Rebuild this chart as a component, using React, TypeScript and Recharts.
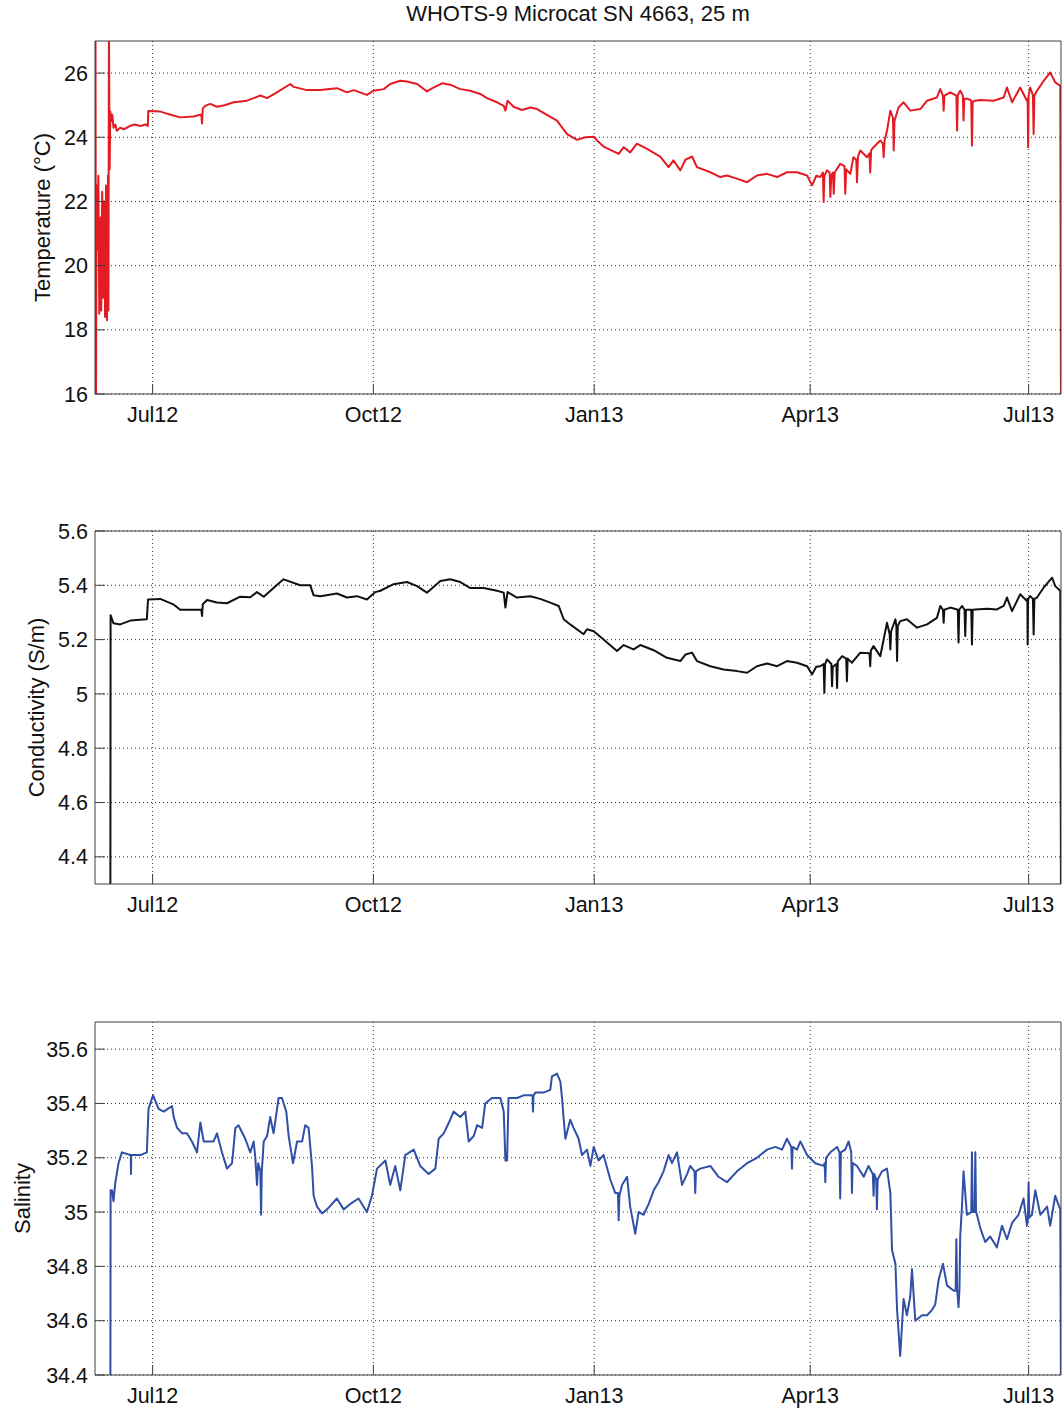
import { LineChart, Line, XAxis, YAxis, CartesianGrid } from 'recharts'

// x values are days since 1 Jul 2012
const monthTicks = [0, 92, 184, 274, 365]
const monthLabels = ['Jul12', 'Oct12', 'Jan13', 'Apr13', 'Jul13']
const dayDomain: [number, number] = [-24, 378.5]

const tempTicks = [16, 18, 20, 22, 24, 26]
const condTicks = [4.4, 4.6, 4.8, 5, 5.2, 5.4, 5.6]
const salTicks = [34.4, 34.6, 34.8, 35, 35.2, 35.4, 35.6]

// [day, temperature °C]
const tempPoints: [number, number][] = [
  [-23.8, 27.5], [-23.6, 15.5], [-23.3, 22.5], [-23.0, 20.5], [-22.6, 22.8], [-22.2, 18.5], [-21.8, 21.5],
  [-21.4, 18.6], [-21.0, 22.3], [-20.6, 19.0], [-20.2, 22.0], [-19.8, 18.4], [-19.4, 22.5], [-19.0, 18.3],
  [-18.6, 22.8], [-18.4, 18.6], [-18.2, 27.5], [-17.9, 23.0], [-17.6, 24.8], [-17.2, 24.5], [-16.8, 24.7],
  [-16.3, 24.3], [-15.5, 24.4], [-14.9, 24.2], [-13.5, 24.3], [-12.0, 24.25], [-9.5, 24.35], [-7.5, 24.4],
  [-5.0, 24.35], [-3.0, 24.4], [-2.0, 24.35], [-1.8, 24.82], [3.2, 24.8], [8.6, 24.68], [11.5, 24.62],
  [17.0, 24.65], [19.9, 24.7], [20.3, 24.7], [20.6, 24.43], [20.9, 24.9], [22.0, 24.98], [24.0, 25.04],
  [26.8, 24.95], [30.0, 25.0], [33.8, 25.09], [39.3, 25.14], [44.9, 25.3], [47.7, 25.22], [51.8, 25.4],
  [57.4, 25.66], [58.8, 25.57], [64.3, 25.47], [69.9, 25.47], [76.8, 25.53], [81.0, 25.4], [83.8, 25.47],
  [89.3, 25.32], [92.0, 25.45], [96.3, 25.5], [99.0, 25.66], [103.2, 25.76], [106.0, 25.74], [110.2, 25.66],
  [114.3, 25.43], [117.0, 25.55], [120.6, 25.68], [124.0, 25.64], [128.2, 25.5], [132.4, 25.45], [136.5, 25.35],
  [139.3, 25.22], [143.5, 25.09], [146.3, 24.98], [147.0, 24.83], [147.9, 25.14], [150.4, 24.95], [153.9, 24.85],
  [157.4, 24.93], [160.2, 24.88], [164.3, 24.7], [168.5, 24.52], [170.6, 24.31], [172.7, 24.1], [176.8, 23.92],
  [180.3, 24.0], [183.8, 24.02], [185.2, 23.9], [187.9, 23.71], [194.2, 23.48], [196.3, 23.69], [199.0, 23.53],
  [201.8, 23.8], [206.0, 23.64], [211.5, 23.4], [215.0, 23.07], [217.0, 23.28], [219.9, 22.97], [222.0, 23.3],
  [224.8, 23.4], [226.8, 23.07], [232.4, 22.91], [236.5, 22.76], [239.3, 22.81], [243.5, 22.71], [247.7, 22.6],
  [251.8, 22.81], [256.0, 22.86], [260.2, 22.76], [264.3, 22.91], [268.5, 22.91], [272.7, 22.81], [274.8, 22.5],
  [276.5, 22.8], [278.2, 22.76], [279.3, 22.9], [279.6, 21.98], [279.9, 22.8], [281.0, 22.97], [282.1, 22.9],
  [282.4, 22.14], [282.8, 22.8], [283.5, 22.9], [283.8, 22.24], [284.2, 22.9], [286.5, 23.17], [288.3, 23.1],
  [288.6, 22.24], [289.0, 23.0], [290.7, 22.86], [292.0, 23.38], [293.2, 23.3], [293.5, 22.6], [293.9, 23.4],
  [294.9, 23.59], [297.7, 23.38], [298.7, 23.5], [299.0, 22.9], [299.4, 23.6], [300.4, 23.69], [303.2, 23.9],
  [304.3, 23.8], [304.6, 23.38], [305.0, 23.9], [306.0, 24.2], [307.4, 24.83], [308.5, 24.6], [308.8, 23.59],
  [309.1, 24.5], [310.8, 24.93], [312.9, 25.09], [315.7, 24.83], [319.9, 24.88], [322.7, 25.14], [326.8, 25.24],
  [328.2, 25.5], [329.3, 25.3], [329.6, 24.83], [329.9, 25.3], [332.4, 25.4], [334.9, 25.3], [335.2, 24.21],
  [335.5, 25.3], [336.5, 25.45], [337.6, 25.3], [337.9, 24.52], [338.2, 25.2], [339.5, 25.2], [341.1, 25.15],
  [341.4, 23.74], [341.7, 25.1], [342.8, 25.14], [344.9, 25.16], [350.4, 25.14], [354.6, 25.24], [356.0, 25.55],
  [358.1, 25.09], [361.5, 25.55], [364.3, 25.14], [364.6, 25.2], [364.8, 23.69], [365.0, 25.3], [365.7, 25.55],
  [366.8, 25.3], [367.1, 24.1], [367.4, 25.3], [368.5, 25.45], [371.3, 25.76], [374.0, 26.02], [376.1, 25.71],
  [378.2, 25.6], [378.5, 15.5],
]

// [day, conductivity S/m]
const condPoints: [number, number][] = [
  [-17.6, 4.2], [-17.5, 5.29], [-16.3, 5.26], [-13.5, 5.256], [-9.3, 5.27], [-2.4, 5.275], [-1.9, 5.348],
  [3.2, 5.35], [8.6, 5.33], [11.5, 5.31], [17.0, 5.31], [19.9, 5.31], [20.3, 5.31], [20.6, 5.287], [20.9, 5.33],
  [22.7, 5.346], [26.8, 5.337], [31.0, 5.334], [36.5, 5.358], [40.7, 5.356], [43.5, 5.375], [46.3, 5.358],
  [53.2, 5.412], [54.6, 5.422], [61.5, 5.4], [65.7, 5.4], [67.1, 5.363], [69.9, 5.36], [76.8, 5.37],
  [81.0, 5.355], [85.2, 5.36], [89.3, 5.348], [92.8, 5.375], [94.9, 5.38], [100.4, 5.404], [106.0, 5.412],
  [110.2, 5.397], [114.3, 5.373], [119.9, 5.416], [124.0, 5.422], [128.2, 5.412], [132.4, 5.39], [137.9, 5.39],
  [143.5, 5.38], [146.3, 5.373], [147.0, 5.318], [147.9, 5.375], [151.8, 5.355], [157.4, 5.36], [161.5, 5.35],
  [165.7, 5.336], [169.2, 5.324], [171.3, 5.275], [174.0, 5.256], [179.6, 5.22], [181.0, 5.238], [183.8, 5.231],
  [187.9, 5.2], [193.5, 5.158], [196.3, 5.18], [200.4, 5.164], [203.2, 5.18], [208.8, 5.161], [214.3, 5.133],
  [219.9, 5.121], [222.0, 5.145], [224.8, 5.152], [226.8, 5.121], [232.4, 5.102], [237.9, 5.09], [243.5, 5.084],
  [247.7, 5.078], [251.8, 5.102], [256.0, 5.112], [260.2, 5.102], [264.3, 5.121], [268.5, 5.115], [272.7, 5.102],
  [274.8, 5.072], [276.5, 5.1], [278.2, 5.102], [279.6, 5.11], [279.9, 5.004], [280.2, 5.11], [281.0, 5.127],
  [282.8, 5.11], [283.1, 5.028], [283.4, 5.1], [284.9, 5.11], [285.2, 5.022], [285.5, 5.12], [287.3, 5.139],
  [289.0, 5.13], [289.3, 5.047], [289.6, 5.13], [291.4, 5.115], [294.9, 5.152], [298.7, 5.15], [299.0, 5.102],
  [299.3, 5.16], [300.4, 5.176], [303.2, 5.139], [306.0, 5.262], [307.1, 5.22], [307.4, 5.164], [307.7, 5.23],
  [309.5, 5.275], [309.9, 5.25], [310.2, 5.121], [310.5, 5.25], [311.5, 5.268], [314.3, 5.275], [318.5, 5.244],
  [322.7, 5.256], [326.8, 5.28], [328.2, 5.324], [329.3, 5.31], [329.6, 5.262], [329.9, 5.31], [332.4, 5.318],
  [335.5, 5.31], [335.8, 5.189], [336.1, 5.31], [337.3, 5.324], [338.3, 5.31], [338.6, 5.213], [338.9, 5.31],
  [341.1, 5.31], [341.4, 5.182], [341.7, 5.31], [342.8, 5.311], [347.7, 5.314], [351.8, 5.311], [354.6, 5.324],
  [356.0, 5.355], [358.1, 5.305], [361.5, 5.367], [364.3, 5.342], [364.5, 5.35], [364.6, 5.182], [364.8, 5.35],
  [365.7, 5.36], [366.8, 5.35], [367.1, 5.219], [367.4, 5.35], [368.5, 5.355], [371.3, 5.392], [374.8, 5.428],
  [376.1, 5.397], [378.2, 5.38], [378.5, 4.2],
]

// [day, salinity]
const salPoints: [number, number][] = [
  [-17.6, 34.3], [-17.5, 35.08], [-16.9, 35.08], [-16.3, 35.04], [-15.5, 35.11], [-14.2, 35.18], [-12.8, 35.22],
  [-9.3, 35.21], [-9.1, 35.21], [-9.0, 35.14], [-8.9, 35.21], [-5.1, 35.21], [-2.4, 35.22], [-1.7, 35.38],
  [0.2, 35.43], [2.5, 35.38], [4.6, 35.37], [8.1, 35.39], [8.8, 35.35], [10.2, 35.31], [12.3, 35.29],
  [14.3, 35.29], [16.4, 35.26], [18.5, 35.22], [19.9, 35.33], [21.3, 35.26], [22.7, 35.26], [25.4, 35.26],
  [26.8, 35.29], [28.9, 35.22], [31.0, 35.16], [33.1, 35.18], [34.5, 35.31], [35.8, 35.32], [38.6, 35.27],
  [40.7, 35.22], [42.1, 35.26], [42.8, 35.2], [43.5, 35.1], [44.0, 35.18], [44.9, 35.15], [45.2, 34.99],
  [45.5, 35.15], [46.3, 35.26], [47.7, 35.28], [49.0, 35.35], [50.4, 35.29], [52.5, 35.42], [53.9, 35.42],
  [55.7, 35.37], [56.7, 35.28], [58.5, 35.18], [60.2, 35.26], [62.3, 35.26], [63.6, 35.32], [65.0, 35.31],
  [66.4, 35.17], [67.1, 35.06], [68.5, 35.02], [70.6, 34.995], [72.7, 35.01], [76.8, 35.05], [79.6, 35.01],
  [82.4, 35.03], [85.8, 35.05], [89.3, 35.0], [91.4, 35.06], [93.5, 35.16], [97.0, 35.19], [99.0, 35.1],
  [101.1, 35.17], [103.2, 35.08], [105.3, 35.21], [108.8, 35.23], [111.5, 35.17], [115.0, 35.14], [117.8, 35.16],
  [119.2, 35.27], [121.3, 35.29], [124.0, 35.34], [125.4, 35.37], [128.2, 35.35], [130.3, 35.37], [131.7, 35.26],
  [133.8, 35.28], [135.2, 35.32], [137.3, 35.31], [138.6, 35.4], [141.4, 35.42], [144.9, 35.42], [146.3, 35.37],
  [147.0, 35.19], [147.7, 35.19], [148.3, 35.42], [151.8, 35.42], [154.6, 35.43], [158.3, 35.43], [158.5, 35.37],
  [158.7, 35.43], [159.5, 35.44], [162.9, 35.44], [165.7, 35.45], [166.4, 35.5], [168.5, 35.51], [169.9, 35.48],
  [170.6, 35.42], [171.3, 35.34], [172.0, 35.27], [174.0, 35.34], [175.4, 35.31], [177.5, 35.27], [178.9, 35.21],
  [181.0, 35.23], [182.4, 35.17], [183.8, 35.24], [185.8, 35.19], [187.9, 35.21], [190.7, 35.12], [192.8, 35.07],
  [193.9, 35.07], [194.2, 34.97], [194.5, 35.06], [195.6, 35.1], [197.7, 35.13], [199.0, 35.02], [201.1, 34.92],
  [202.5, 35.0], [204.6, 34.99], [206.7, 35.03], [208.8, 35.08], [210.8, 35.11], [212.9, 35.15], [215.0, 35.21],
  [216.4, 35.18], [218.5, 35.22], [220.6, 35.1], [222.7, 35.14], [224.0, 35.17], [225.8, 35.15], [226.1, 35.07],
  [226.4, 35.15], [228.2, 35.16], [232.4, 35.17], [235.8, 35.13], [239.3, 35.11], [243.5, 35.15], [247.7, 35.18],
  [251.8, 35.2], [256.0, 35.23], [259.5, 35.24], [262.3, 35.23], [264.3, 35.27], [266.1, 35.24], [266.4, 35.16],
  [266.7, 35.24], [268.5, 35.23], [269.9, 35.26], [272.7, 35.21], [276.1, 35.18], [279.6, 35.17], [280.0, 35.18],
  [280.3, 35.11], [280.6, 35.2], [282.4, 35.22], [285.2, 35.24], [286.2, 35.22], [286.5, 35.05], [286.8, 35.22],
  [288.6, 35.23], [290.0, 35.26], [291.1, 35.22], [291.4, 35.07], [291.7, 35.18], [293.5, 35.17], [296.3, 35.13],
  [298.3, 35.17], [300.1, 35.14], [300.4, 35.06], [300.7, 35.14], [301.5, 35.12], [301.8, 35.01], [302.1, 35.12],
  [303.9, 35.15], [306.0, 35.16], [307.4, 35.07], [308.1, 34.86], [309.5, 34.81], [310.2, 34.64], [311.5, 34.47],
  [312.9, 34.68], [314.3, 34.62], [315.7, 34.69], [316.4, 34.79], [317.8, 34.6], [320.6, 34.62], [322.7, 34.62],
  [324.8, 34.64], [326.1, 34.66], [327.5, 34.75], [329.3, 34.81], [331.0, 34.73], [333.8, 34.71], [334.6, 34.71],
  [334.9, 34.9], [335.2, 34.72], [335.8, 34.65], [336.2, 34.72], [336.5, 34.91], [337.3, 35.03], [337.9, 35.15],
  [339.3, 34.99], [341.1, 35.0], [341.4, 35.22], [341.7, 35.0], [342.5, 35.0], [342.8, 35.22], [343.1, 35.0],
  [343.5, 34.99], [344.9, 34.94], [346.9, 34.89], [349.0, 34.91], [351.8, 34.87], [353.9, 34.95], [356.0, 34.9],
  [358.1, 34.96], [360.8, 34.99], [362.9, 35.05], [364.3, 34.95], [364.7, 34.97], [365.0, 35.11], [365.3, 34.98],
  [366.4, 34.99], [367.8, 35.08], [369.9, 34.99], [372.7, 35.02], [374.0, 34.95], [376.1, 35.06], [378.2, 35.01],
  [378.5, 34.3],
]

const FONT = '"Liberation Sans", Arial, Helvetica, sans-serif'
const AXIS_COLOR = '#404040'
const TEXT_COLOR = '#111'

interface PanelProps {
  points: [number, number][]
  color: string
  yDomain: [number, number]
  yTicks: number[]
  label: string
  labelX: number
  top: number
}

function Panel({ points, color, yDomain, yTicks, label, labelX, top }: PanelProps) {
  const data = points.map(([day, value]) => ({ day, value }))

  // rotated y-axis title, centred on the plot height
  const renderYLabel = (props: any) => {
    const vb = props.viewBox || { y: 41, height: 353 }
    const cy = vb.y + vb.height / 2
    return (
      <text
        x={labelX}
        y={cy}
        transform={`rotate(-90 ${labelX} ${cy})`}
        textAnchor="middle"
        dominantBaseline="central"
        fontSize={22}
        fontFamily={FONT}
        fill={TEXT_COLOR}
      >
        {label}
      </text>
    )
  }

  return (
    <div style={{ position: 'absolute', left: 0, top }}>
      <LineChart width={1062} height={440} data={data} margin={{ top: 40, right: 0, bottom: 6, left: 0 }}>
        <CartesianGrid stroke="#333" strokeDasharray="1 3" syncWithTicks />
        <XAxis
          dataKey="day"
          type="number"
          domain={dayDomain}
          allowDataOverflow
          ticks={monthTicks}
          interval={0}
          tickFormatter={(d: number) => monthLabels[monthTicks.indexOf(d)]}
          height={40}
          tickSize={-10}
          tickMargin={23}
          stroke={AXIS_COLOR}
          tick={{ fontSize: 21.5, fill: TEXT_COLOR, fontFamily: FONT }}
        />
        <XAxis
          xAxisId="top"
          orientation="top"
          dataKey="day"
          type="number"
          domain={dayDomain}
          allowDataOverflow
          ticks={monthTicks}
          interval={0}
          height={1}
          tickSize={-10}
          tick={false}
          stroke={AXIS_COLOR}
        />
        <YAxis
          type="number"
          domain={yDomain}
          allowDataOverflow
          ticks={yTicks}
          interval={0}
          width={95}
          tickSize={-10}
          tickMargin={17}
          stroke={AXIS_COLOR}
          tick={{ fontSize: 21.5, fill: TEXT_COLOR, fontFamily: FONT }}
          label={{ content: renderYLabel }}
        />
        <YAxis
          yAxisId="right"
          orientation="right"
          type="number"
          domain={yDomain}
          allowDataOverflow
          ticks={yTicks}
          interval={0}
          width={1}
          tickSize={-10}
          tick={false}
          stroke={AXIS_COLOR}
        />
        {/* invisible copy so the mirrored top/right axes get a domain */}
        <Line
          xAxisId="top"
          yAxisId="right"
          dataKey="value"
          stroke="none"
          dot={false}
          activeDot={false}
          isAnimationActive={false}
        />
        <Line
          type="linear"
          dataKey="value"
          stroke={color}
          strokeWidth={2}
          strokeLinejoin="round"
          dot={false}
          activeDot={false}
          isAnimationActive={false}
        />
      </LineChart>
    </div>
  )
}

export default function App() {
  return (
    <div
      style={{
        position: 'absolute',
        left: 0,
        top: 0,
        width: 1062,
        height: 1416,
        overflow: 'hidden',
        background: '#fff',
      }}
    >
      <div
        style={{
          position: 'absolute',
          left: 95,
          width: 966,
          top: 2,
          textAlign: 'center',
          fontFamily: FONT,
          fontSize: 22,
          lineHeight: '24px',
          color: TEXT_COLOR,
        }}
      >
        WHOTS-9 Microcat SN 4663, 25 m
      </div>
      <Panel points={tempPoints} color="#e31b23" yDomain={[16, 27]} yTicks={tempTicks} label="Temperature (°C)" labelX={42} top={0} />
      <Panel points={condPoints} color="#111111" yDomain={[4.3, 5.6]} yTicks={condTicks} label="Conductivity (S/m)" labelX={36} top={490} />
      <Panel points={salPoints} color="#3050a8" yDomain={[34.4, 35.7]} yTicks={salTicks} label="Salinity" labelX={22} top={981} />
    </div>
  )
}
